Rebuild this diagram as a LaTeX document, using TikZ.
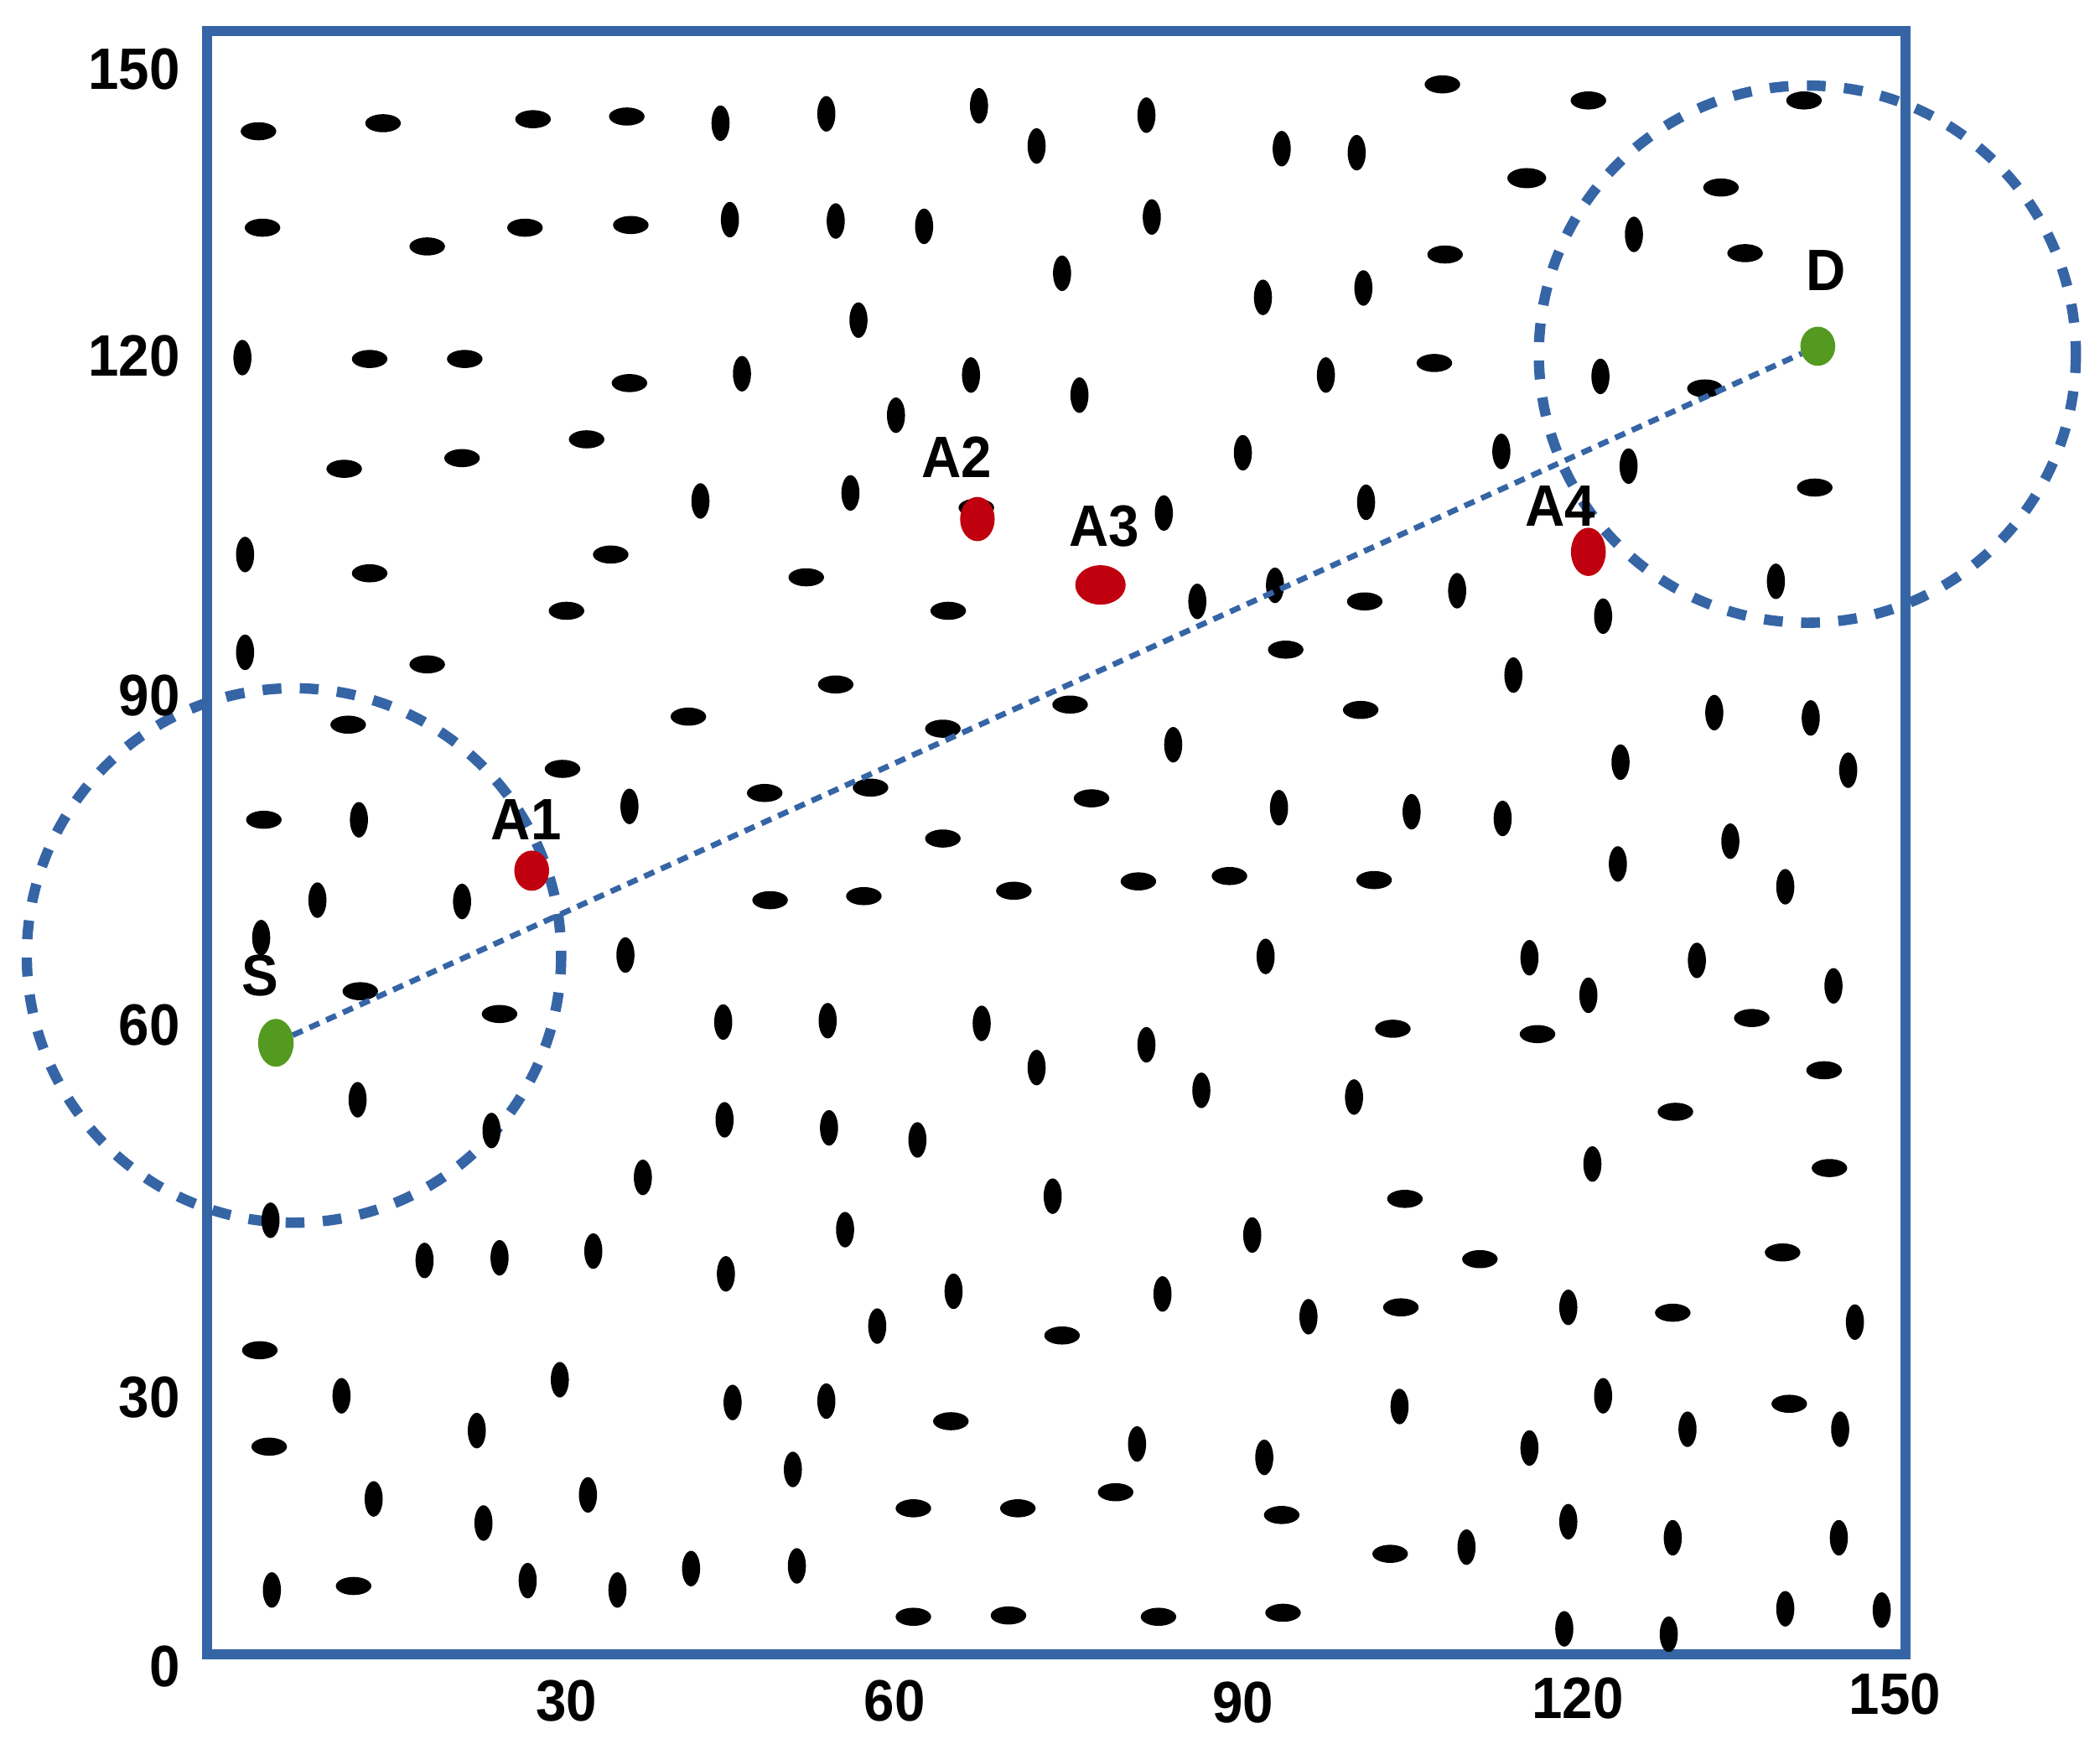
\documentclass[tikz,border=0pt]{standalone}
\usepackage{fontspec}
\newfontfamily\labfont{Liberation Sans}[FakeStretch=0.94]
\usetikzlibrary{shapes.geometric}
\definecolor{bx}{RGB}{54,101,166}
\definecolor{gr}{RGB}{84,154,32}
\definecolor{rd}{RGB}{192,0,14}
\tikzset{
  dotb/.style={ellipse, fill=black, draw=none, inner sep=0pt, outer sep=0pt},
  hd/.style={dotb, minimum width=0.265cm, minimum height=0.135cm},
  vd/.style={dotb, minimum width=0.135cm, minimum height=0.265cm},
  rednode/.style={ellipse, fill=rd, draw=none, inner sep=0pt, outer sep=0pt},
  greennode/.style={ellipse, fill=gr, draw=none, inner sep=0pt, outer sep=0pt},
  lab/.style={inner sep=0pt, font=\labfont\bfseries\fontsize{12.4}{14}\selectfont},
  boxline/.style={draw=bx, line width=2.1pt},
  rangecircle/.style={draw=bx, line width=2.2pt, dash pattern=on 4pt off 3.9pt},
  pathline/.style={draw=bx, line width=1.2pt, dash pattern=on 2.3pt off 1.6pt},
}
\begin{document}
\begin{tikzpicture}[x=0.01cm, y=-0.01cm]
\useasboundingbox (0,0) rectangle (1568,1298);
% range circles
\draw[rangecircle] (219.5,713.3) circle[radius=199.5];
\draw[rangecircle] (1349.5,264.4) circle[radius=200.5];
% frame
\draw[boxline] (154.5,23) rectangle (1423,1235);
% horizontal dots
\foreach \x/\y [count=\i] in {193/98, 286/92, 398/89, 468/87, 1077/63, 1186/75, 1347/75, 1285/140, 196/170, 319/184, 392/170, 471/168, 1303/189, 1079/190, 276/268, 347/268, 470/286, 1071/271, 1273/290, 257/350, 345/342, 438/328, 1355/364, 729/379, 276/428, 456/414, 602/431, 708/456, 423/456, 1019/449, 319/496, 624/511, 960/485, 514/535, 799/526, 1016/530, 260/541, 704/544, 420/574, 197/612, 571/592, 650/588, 815/596, 704/626, 575/672, 645/669, 757/665, 850/658, 918/654, 1026/657, 269/740, 373/757, 1040/768, 1148/772, 1308/760, 1362/799, 1251/830, 1366/872, 1049/895, 1105/940, 1331/935, 1046/976, 1249/980, 793/997, 194/1008, 1336/1048, 201/1080, 710/1061, 833/1114, 682/1126, 760/1126, 957/1131, 1038/1160, 264/1184, 682/1207, 753/1206, 865/1207, 958/1204}
  \node[hd] (h\i) at (\x,\y) {};
\node[hd, minimum width=0.29cm, minimum height=0.15cm] (hbig) at (1140,133) {};
% vertical dots
\foreach \x/\y [count=\i] in {538/92, 617/85, 731/79, 774/109, 856/86, 957/111, 1013/114, 545/164, 624/165, 690/169, 860/162, 793/204, 1220/175, 943/222, 1018/215, 641/239, 181/267, 554/279, 725/280, 806/295, 990/280, 1195/281, 669/310, 928/338, 1121/337, 1216/348, 523/374, 635/368, 869/383, 1020/375, 183/414, 952/437, 894/449, 1088/441, 1197/460, 1326/434, 183/487, 1130/504, 1280/532, 1352/536, 876/556, 1210/569, 1380/575, 268/612, 470/602, 955/603, 1054/606, 1122/611, 1292/628, 237/672, 345/673, 1208/645, 1333/662, 195/700, 467/713, 945/714, 1142/715, 1267/717, 540/763, 618/762, 733/764, 1186/743, 1369/736, 774/797, 856/780, 267/821, 367/844, 541/836, 619/842, 685/851, 897/814, 1011/819, 1189/869, 480/879, 786/893, 202/911, 631/918, 935/922, 317/941, 373/939, 443/934, 542/951, 712/964, 868/966, 655/990, 977/983, 1171/976, 1385/987, 255/1042, 418/1030, 547/1047, 617/1046, 1197/1042, 1045/1050, 356/1068, 849/1078, 944/1088, 1142/1081, 1260/1067, 1374/1067, 592/1097, 279/1119, 439/1116, 361/1137, 1171/1136, 1249/1148, 1373/1148, 1095/1155, 203/1187, 394/1180, 461/1187, 516/1171, 595/1169, 1333/1201, 1405/1202, 1168/1216, 1246/1220}
  \node[vd] (v\i) at (\x,\y) {};
% special nodes
\node[greennode, minimum width=0.265cm, minimum height=0.357cm] (S) at (206,778.5) {};
\node[greennode, minimum width=0.26cm, minimum height=0.292cm] (D) at (1357.3,258.5) {};
\node[rednode, minimum width=0.26cm, minimum height=0.30cm] (A1) at (397,650) {};
\node[rednode, minimum width=0.258cm, minimum height=0.33cm] (A2) at (729.8,387.5) {};
\node[rednode, minimum width=0.376cm, minimum height=0.294cm] (A3) at (821.7,436.7) {};
\node[rednode, minimum width=0.26cm, minimum height=0.36cm] (A4) at (1186,412) {};
% path
\draw[pathline] (S) -- (D);
% labels
\node[lab] (lS) at (194,728.6) {S};
\node[lab] (lD) at (1363.4,201.9) {D};
\node[lab] (lA1) at (393,612) {A1};
\node[lab] (lA2) at (714.2,341.1) {A2};
\node[lab] (lA3) at (824.4,393.1) {A3};
\node[lab] (lA4) at (1165,378) {A4};
% axis labels
\node[lab, anchor=east] (y150) at (135,51.5) {150};
\node[lab, anchor=east] (y120) at (135,266) {120};
\node[lab, anchor=east] (y90) at (135,519) {90};
\node[lab, anchor=east] (y60) at (135,765) {60};
\node[lab, anchor=east] (y30) at (135,1043) {30};
\node[lab, anchor=east] (y0) at (135,1244) {0};
\node[lab] (x30) at (423,1270) {30};
\node[lab] (x60) at (668,1270) {60};
\node[lab] (x90) at (928,1271) {90};
\node[lab] (x120) at (1178,1268) {120};
\node[lab] (x150) at (1415,1265) {150};
\end{tikzpicture}
\end{document}
